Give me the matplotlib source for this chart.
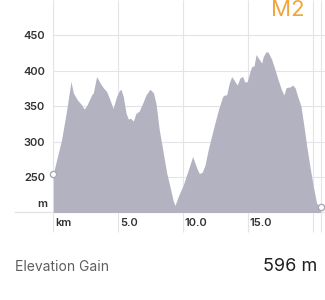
import matplotlib
matplotlib.use("Agg")
import matplotlib.pyplot as plt
from matplotlib.transforms import ScaledTranslation

plt.rcParams['font.family'] = ['Inter', 'DejaVu Sans']

# Elevation profile (km, m)
dist_km = [0.0, 0.64, 1.03, 1.36, 1.54, 1.85, 2.18, 2.38, 2.6, 2.95, 3.08, 3.33,
           3.6, 3.85, 4.1, 4.36, 4.6, 4.87, 5.08, 5.2, 5.38, 5.6, 5.77, 5.95,
           6.15, 6.36, 6.6, 6.87, 7.13, 7.44, 7.7, 7.9, 8.15, 8.46, 8.72, 8.97,
           9.23, 9.36, 9.62, 10.0, 10.38, 10.72, 11.03, 11.23, 11.46, 11.67,
           11.92, 12.3, 12.7, 13.03, 13.2, 13.33, 13.54, 13.72, 13.97, 14.15,
           14.36, 14.56, 14.74, 14.92, 15.13, 15.26, 15.44, 15.6, 15.77, 16.03,
           16.15, 16.36, 16.54, 16.8, 17.05, 17.3, 17.56, 17.74, 17.9, 18.08,
           18.2, 18.4, 18.6, 18.8, 19.05, 19.28, 19.5, 19.74, 20.0, 20.26, 20.56]
elev_m = [255, 303, 345, 385, 369, 359, 352, 346, 352, 366, 369, 392,
          383, 376, 371, 359, 347, 364, 372, 374, 364, 340, 332, 333,
          329, 340, 343, 354, 366, 374, 369, 354, 317, 284, 256, 237,
          216, 210, 223, 239, 260, 279, 263, 255, 257, 267,
          289, 317, 345, 364, 366, 366, 383, 392, 385, 380,
          390, 392, 384, 385, 399, 406, 407, 423, 418, 411,
          420, 427, 426, 416, 402, 387, 373, 366, 376, 377,
          377, 380, 376, 364, 350, 322, 293, 265, 237, 213, 208]

y_ticks = [250, 300, 350, 400, 450]
x_ticks = [0, 5, 10, 15, 20]
x_labels = ["km", "5.0", "10.0", "15.0", ""]

route_name = "M2"
gain_label = "Elevation Gain"
gain_value = "596 m"

fig = plt.figure(figsize=(3.25, 3.0), dpi=100)
ax = fig.add_axes([0.164, 0.2917, 0.836, 0.7083])
ax.set_xlim(0, 20.9)
ax.set_ylim(200, 500)

grid_c = "#e4e4e8"
for y in y_ticks:
    ax.axhline(y, color=grid_c, lw=0.8, zorder=0)
# vertical grid reaches below the baseline
ax.vlines(x_ticks + [dist_km[-1]], -0.09, 1, transform=ax.get_xaxis_transform(),
          color=grid_c, lw=0.8, clip_on=False, zorder=0)
ax.plot([-0.141, 1], [0, 0], transform=ax.transAxes, color=grid_c,
        lw=1.0, clip_on=False, zorder=0)

ax.fill_between(dist_km, 200, elev_m, color="#b3b2c1", lw=0, zorder=2)

# start / end markers
ax.plot([dist_km[0], dist_km[-1]], [elev_m[0], elev_m[-1]], "o", ms=4.5,
        mfc="white", mec="#a9a9b3", mew=1.0, clip_on=False, zorder=4)

for s in ax.spines.values():
    s.set_visible(False)
ax.set_yticks(y_ticks)
ax.set_yticklabels([str(v) for v in y_ticks])
ax.set_xticks(x_ticks)
ax.set_xticklabels(x_labels, ha="left")
ax.tick_params(length=0, labelsize=8, colors="#333333")
ax.tick_params(axis="x", pad=4)
ax.tick_params(axis="y", pad=6)
for lab in ax.get_xticklabels() + ax.get_yticklabels():
    lab.set_fontweight("semibold")
for lab in ax.get_xticklabels():
    lab.set_transform(lab.get_transform() +
                      ScaledTranslation(1.5 / 100, 0, fig.dpi_scale_trans))
ax.text(-0.024, 212, "m", transform=ax.get_yaxis_transform(), ha="right",
        va="center", fontsize=8, fontweight="semibold", color="#333333")

fig.text(0.886, 0.968, route_name, ha="center", va="center", fontsize=16,
         color="#f2a53a")
fig.text(0.046, 0.111, gain_label, ha="left", va="center", fontsize=10,
         color="#5e5e5e")
fig.text(0.975, 0.111, gain_value, ha="right", va="center", fontsize=13,
         color="#1e1e1e")

fig.savefig("out.png", dpi=100)
